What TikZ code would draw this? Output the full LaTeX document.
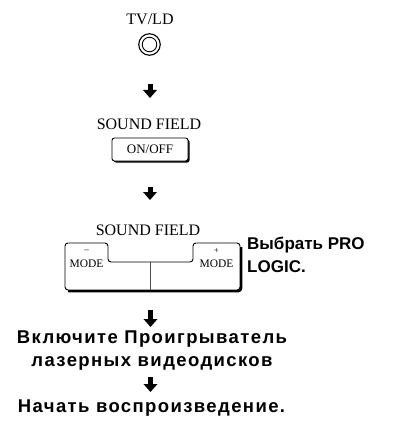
\documentclass[tikz,border=0pt]{standalone}
\usepackage{fontspec}
\setmainfont{Liberation Serif}
\newfontfamily\stepfont{Liberation Sans}
\newfontfamily\widestep[LetterSpace=7.5]{Liberation Sans}
\usetikzlibrary{arrows.meta,shadows}

\begin{document}
\begin{tikzpicture}[x=1pt,y=-1pt,
  keylabel/.style={inner sep=0pt,anchor=base,font=\fontsize{16}{18}\selectfont},
  modelabel/.style={inner sep=0pt,anchor=base,font=\fontsize{11.5}{13}\selectfont},
  signlabel/.style={inner sep=0pt,font=\fontsize{9}{10}\selectfont},
  steptext/.style={inner sep=0pt,font=\stepfont\bfseries\fontsize{17}{23}\selectfont},
  widetext/.style={inner sep=0pt,font=\widestep\bfseries\fontsize{18.5}{23}\selectfont},
  downarrow/.style={-{Triangle[width=13.5pt,length=8pt]},line width=5pt},
  panel/.style={line width=0.9pt,rounded corners=3pt},
  panelshade/.style={line width=2.2pt,rounded corners=3pt}
]
  \useasboundingbox (0,0) rectangle (409,422);

  % TV/LD key
  \node[keylabel] (tvld) at (150,25) {TV/LD};
  \node[circle,draw,line width=1.1pt,minimum size=21.5pt,inner sep=0pt] (knob) at (149.5,44.5) {};
  \node[circle,draw,line width=0.9pt,minimum size=14.5pt,inner sep=0pt] (knobin) at (knob) {};

  \coordinate (a1s) at (150,84);
  \coordinate (a1e) at (150,98);
  \draw[downarrow] (a1s) -- (a1e);

  % SOUND FIELD ON/OFF
  \node[keylabel] (sf1) at (149,130) {SOUND FIELD};
  \node[draw,fill=white,line width=0.9pt,rounded corners=2.5pt,minimum width=76pt,
        minimum height=23pt,inner sep=0pt,font=\fontsize{13}{15}\selectfont,
        drop shadow={shadow xshift=1.6pt,shadow yshift=-1.6pt,opacity=1,fill=black}]
        (onoff) at (150,149.5) {ON/OFF};

  \coordinate (a2s) at (150,187);
  \coordinate (a2e) at (150,200);
  \draw[downarrow] (a2s) -- (a2e);

  % SOUND FIELD MODE
  \node[keylabel] (sf2) at (148,235) {SOUND FIELD};
  \draw[panel] (65,262) |- (108,243) |- (193,262) |- (240,243) -- (240,290) -- (65,290) -- cycle;
  \draw[panelshade] (241.2,247) -- (241.2,291.2) -- (68,291.2);
  \coordinate (stepmid) at (150,262);
  \coordinate (panelbot) at (150,290);
  \draw[gray!60!black,line width=0.7pt] (stepmid) -- (panelbot);
  \node[signlabel] (minus) at (86.5,251) {–};
  \node[modelabel] (minusmode) at (86.5,267.5) {MODE};
  \node[signlabel] (plus) at (216.5,250.5) {+};
  \node[modelabel] (plusmode) at (216.5,267.5) {MODE};

  \node[steptext,anchor=west,align=left] (pick) at (247,254.5) {Выбрать PRO\\LOGIC.};

  \coordinate (a3s) at (150.5,310);
  \coordinate (a3e) at (150.5,327);
  \draw[downarrow] (a3s) -- (a3e);

  \node[widetext,align=center] (player) at (152,351) {Включите Проигрыватель\\лазерных видеодисков};

  \coordinate (a4s) at (150.5,377);
  \coordinate (a4e) at (150.5,392);
  \draw[downarrow] (a4s) -- (a4e);

  \node[widetext,anchor=base] (play) at (151.5,412.5) {Начать воспроизведение.};
\end{tikzpicture}
\end{document}
